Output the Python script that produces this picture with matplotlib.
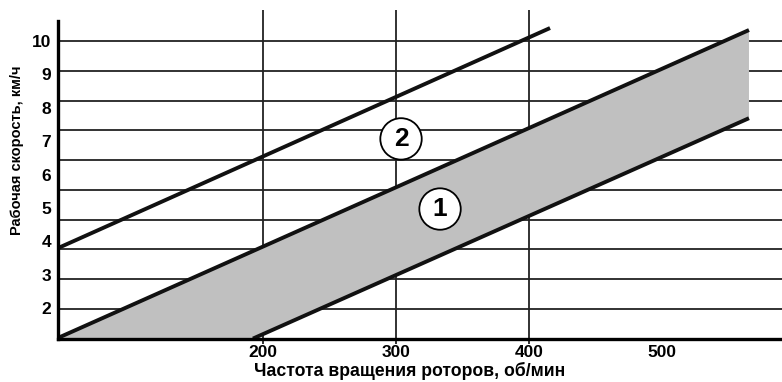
import numpy as np
import matplotlib.pyplot as plt

plt.rcParams['font.family'] = ['Liberation Sans', 'DejaVu Sans']
plt.rcParams['font.weight'] = 'bold'

# x: rotor speed, rpm; y: working speed, km/h
line2_x = [46.3, 415.8]
line2_y = [3.80, 10.39]
upper1_x = [46.3, 565.2]
upper1_y = [1.11, 10.33]
lower1_x = [192.7, 565.2]
lower1_y = [1.09, 7.69]

xticks = [200, 300, 400, 500]
xgrid = [200, 300, 400]
yticks = [2, 3, 4, 5, 6, 7, 8, 9, 10]
ytick_labels = ["2", "3", "4", "5", "6", "7", "8", "9", "10"]

xlim = (46.3, 590.0)
ylim = (1.093, 10.93)
y_spine_top = 10.6

fig = plt.figure(figsize=(7.82, 3.82), dpi=100)
ax = fig.add_axes([58 / 782, (382 - 338.5) / 382, 1 - 58 / 782, (338.5 - 10) / 382])
ax.set_xlim(*xlim)
ax.set_ylim(*ylim)

# horizontal grid (its spacing differs from the tick labels in the original)
for gy in np.linspace(ylim[0], 10, 11)[1:]:
    ax.axhline(gy, color='#222222', lw=1.3, zorder=1)
for gx in xgrid:
    ax.vlines(gx, ylim[0] - 0.15, ylim[1], color='#222222', lw=1.3, zorder=1, clip_on=False)

# shaded zone 1
ax.fill(np.r_[upper1_x, lower1_x[::-1]], np.r_[upper1_y, lower1_y[::-1]],
        color='#c0c0c0', lw=0, zorder=2)

for xs, ys in [(line2_x, line2_y), (upper1_x, upper1_y), (lower1_x, lower1_y)]:
    ax.plot(xs, ys, color='#111111', lw=2.8, solid_capstyle='butt', zorder=3, clip_on=False)

circle = dict(boxstyle='circle,pad=0.33', fc='white', ec='black', lw=1.3)
ax.text(303.9, 7.07, "2", fontsize=19, ha='center', va='center', bbox=circle, zorder=4)
ax.text(333.2, 4.97, "1", fontsize=19, ha='center', va='center', bbox=circle, zorder=4)

for s in ['top', 'right']:
    ax.spines[s].set_visible(False)
ax.spines['left'].set_bounds(ylim[0], y_spine_top)
ax.spines['left'].set_linewidth(2.4)
ax.spines['bottom'].set_linewidth(2.4)
ax.spines['left'].set_zorder(5)
ax.spines['bottom'].set_zorder(5)

ax.set_xticks(xticks)
ax.set_xticklabels([str(t) for t in xticks], fontsize=12.5, fontweight='bold')
ax.set_yticks(yticks)
ax.set_yticklabels(ytick_labels, fontsize=12.5, fontweight='bold')
ax.tick_params(length=0, pad=5)

ax.set_xlabel("Частота вращения роторов, об/мин", fontsize=12.7, fontweight='bold')
ax.xaxis.set_label_coords((410 - 58) / 724, -(362 - 338.5) / 328.5)
ax.set_ylabel("Рабочая скорость, км/ч", fontsize=10.5, fontweight='bold')
ax.yaxis.set_label_coords(-(58 - 24) / 724, (338.5 - 150) / 328.5)

fig.savefig("out.png", dpi=100)
